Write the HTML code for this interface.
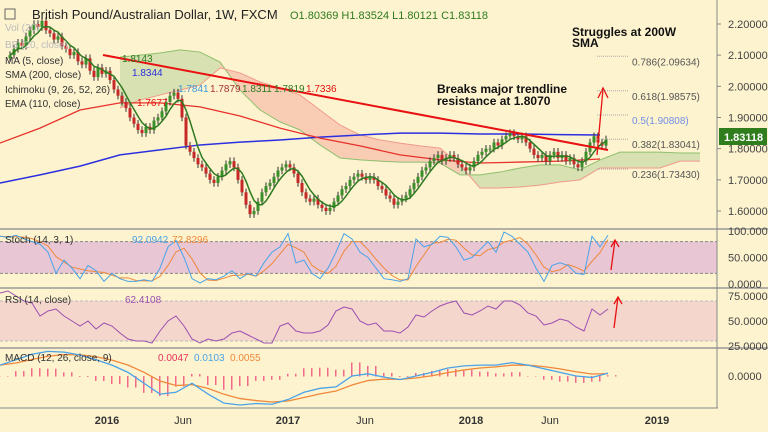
<!DOCTYPE html>
<html><head><meta charset="utf-8"><style>
body{margin:0;background:#fff;}
#c{width:768px;height:432px;background:#fdf3cf;position:relative;overflow:hidden;font-family:"Liberation Sans",sans-serif;}
svg text{font-family:"Liberation Sans",sans-serif;}
</style></head><body>
<div id="c">
<svg id="s" width="768" height="432"></svg>
</div>
<script>
const closes=[2.10,2.12,2.14,2.13,2.16,2.18,2.20,2.19,2.21,2.18,
2.17,2.15,2.16,2.13,2.12,2.10,2.11,2.08,2.07,2.09,
2.05,2.03,2.06,2.04,2.05,2.02,1.99,1.97,1.95,1.93,
1.90,1.88,1.86,1.85,1.87,1.86,1.89,1.90,1.92,1.95,
1.97,1.98,1.96,1.90,1.81,1.79,1.77,1.75,1.74,1.72,
1.70,1.69,1.71,1.73,1.75,1.76,1.74,1.70,1.66,1.62,
1.59,1.60,1.63,1.66,1.68,1.69,1.71,1.73,1.74,1.75,
1.74,1.72,1.69,1.66,1.64,1.63,1.64,1.62,1.61,1.60,
1.61,1.63,1.65,1.67,1.68,1.70,1.71,1.72,1.71,1.70,
1.71,1.70,1.68,1.67,1.65,1.64,1.62,1.63,1.64,1.65,
1.67,1.69,1.71,1.73,1.74,1.76,1.77,1.78,1.76,1.77,
1.78,1.77,1.75,1.74,1.73,1.74,1.76,1.78,1.79,1.80,
1.80,1.82,1.81,1.83,1.84,1.85,1.84,1.83,1.84,1.82,
1.80,1.78,1.77,1.78,1.76,1.78,1.79,1.77,1.78,1.76,
1.77,1.75,1.74,1.76,1.79,1.82,1.84,1.82,1.81,1.83];
// overlays sampled every 40 px from x=0
const sma200=[1.690,1.716,1.744,1.780,1.796,1.812,1.821,1.828,1.837,1.844,1.850,1.850,1.847,1.847,1.845,1.844];
const ema110=[1.818,1.866,1.924,1.947,1.947,1.934,1.905,1.866,1.834,1.809,1.780,1.764,1.754,1.757,1.760,1.767];
// ichimoku spans sampled every 20 px from x=120
const spanA=[2.094,2.100,2.107,2.117,2.110,2.078,1.988,1.924,1.886,1.860,1.812,1.770,1.764,1.760,1.757,1.757,1.754,1.716,1.716,1.725,1.738,1.748,1.748,1.732,1.764,1.789,1.789,1.789,1.786,1.786];
const spanB=[1.931,1.956,1.972,1.988,2.004,2.059,2.043,2.014,1.995,1.972,1.924,1.876,1.844,1.828,1.818,1.809,1.802,1.748,1.674,1.674,1.677,1.683,1.693,1.700,1.738,1.738,1.738,1.738,1.760,1.760];
const stochK=[90,88,92,85,80,75,60,20,45,30,10,35,25,5,20,10,5,5,8,5,30,70,82,50,10,2,10,8,15,25,10,20,15,40,60,70,95,40,45,20,10,30,60,95,85,60,50,30,10,8,5,10,85,70,75,90,88,70,45,50,65,80,60,98,90,75,60,30,5,35,40,35,20,18,90,70,92];
const rsi=[78,80,75,70,68,55,60,62,55,50,45,50,42,48,45,38,32,30,30,28,40,50,55,45,32,28,32,30,32,38,40,36,32,28,28,45,48,40,38,38,40,46,60,64,62,50,46,48,40,40,38,44,56,54,60,65,68,70,58,56,60,65,62,70,70,66,58,55,46,48,52,50,44,40,62,56,62];
const macd=[0.03,0.045,0.06,0.068,0.066,0.058,0.045,0.03,0.01,-0.02,-0.05,-0.045,-0.02,-0.05,-0.075,-0.08,-0.076,-0.078,-0.065,-0.045,-0.034,-0.03,0.0,0.006,-0.003,-0.01,0.0,0.01,0.022,0.028,0.03,0.03,0.037,0.03,0.02,0.01,0.0,-0.004,0.008];
const priceTicks=[2.2,2.1,2.0,1.9,1.8,1.7,1.6];
const timeLabels=["2016","Jun","2017","Jun","2018","Jun","2019"];
const timeX=[107,183,288,365,471,550,657];
const fibLevels=[0.786,0.618,0.5,0.382,0.236];
const fibPrices=[2.09634,1.98575,1.90808,1.83041,1.73430];

const S=document.getElementById('s');const NS='http://www.w3.org/2000/svg';
function el(t,a,p){const e=document.createElementNS(NS,t);for(const k in a)e.setAttribute(k,a[k]);(p||S).appendChild(e);return e;}
function txt(x,y,s,a){const e=el('text',Object.assign({x:x,y:y},a));e.textContent=s;return e;}
const py=p=>24+(2.2-p)*311.7;
const cx=i=>10+4*i;
const kx=i=>120+20*i;
const sy=v=>284-v*0.53;
const ry=v=>346-(v-25)*1.0;
const my=v=>376-v*362;
const line=(pts,a)=>el('polyline',Object.assign({points:pts.map(p=>p.join(',')).join(' '),fill:'none'},a));

// ichimoku cloud
for(let i=0;i<spanA.length-1;i++){
 const x0=kx(i),x1=kx(i+1);const g=(spanA[i]+spanA[i+1])>=(spanB[i]+spanB[i+1]);
 const c=el('polygon',{points:`${x0},${py(spanA[i])} ${x1},${py(spanA[i+1])} ${x1},${py(spanB[i+1])} ${x0},${py(spanB[i])}`,fill:g?'#d3dfae':'#f7c9b0',opacity:0.9});
 }
line(spanA.map((v,i)=>[kx(i),py(v)]),{stroke:'#8fbf6f','stroke-width':1,});
line(spanB.map((v,i)=>[kx(i),py(v)]),{stroke:'#f09a8a','stroke-width':1,});
line(sma200.map((v,i)=>[i*40,py(v)]),{stroke:'#2b2fe0','stroke-width':1.5,});
line(ema110.map((v,i)=>[i*40,py(v)]),{stroke:'#e8312a','stroke-width':1.3,});
// candles
closes.forEach((c,i)=>{const o=i?closes[i-1]:c-0.01;const up=c>=o;const hi=Math.max(o,c)+0.012,lo=Math.min(o,c)-0.012;
 const g=el('g',{});
 el('line',{x1:cx(i),x2:cx(i),y1:py(hi),y2:py(lo),stroke:'#333','stroke-width':1},g);
 el('rect',{x:cx(i)-1.5,y:py(Math.max(o,c)),width:3,height:Math.max(1,Math.abs(py(o)-py(c))),fill:up?'#3a8f2a':'#c62828'},g);});
const ma5=closes.map((c,i)=>{const s=closes.slice(Math.max(0,i-4),i+1);return [cx(i),py(s.reduce((a,b)=>a+b)/s.length)];});
line(ma5,{stroke:'#2d7a1f','stroke-width':1.5,});
// trendline
el('line',{x1:103,y1:55,x2:608,y2:150,stroke:'#e81010','stroke-width':2,});
el('line',{x1:597,y1:155,x2:603,y2:89,stroke:'#e81010','stroke-width':1.3,});
el('polyline',{points:'598,98 603,88 608,98',fill:'none',stroke:'#e81010','stroke-width':1.3,});
// fib
fibLevels.forEach((f,i)=>{const y=py(fibPrices[i]);
 el('line',{x1:597,x2:628,y1:y,y2:y,stroke:'#aaa','stroke-dasharray':'1,1',});
 txt(632,y+9,f+'('+fibPrices[i].toFixed(5)+')',{'font-size':10,fill:i==2?'#6f8fe6':'#555',});});
txt(572,36,'Struggles at 200W',{'font-size':12,'font-weight':'bold',fill:'#111',});
txt(572,47,'SMA',{'font-size':12,'font-weight':'bold',fill:'#111',});
txt(437,93,'Breaks major trendline',{'font-size':12,'font-weight':'bold',fill:'#111',});
txt(437,105,'resistance at 1.8070',{'font-size':12,'font-weight':'bold',fill:'#111',});
// header
txt(32,19,'British Pound/Australian Dollar, 1W, FXCM',{'font-size':13,fill:'#222',});
txt(290,19,'O1.80369  H1.83524  L1.80121  C1.83118',{'font-size':11,fill:'#2d7a1f',});
el('rect',{x:5,y:9,width:10,height:10,fill:'none',stroke:'#666',});
[['Vol (20)',29,'#bbb'],['BB (20, close)',46,'#bbb'],['MA (5, close)',62,'#333'],['SMA (200, close)',76,'#333'],['Ichimoku (9, 26, 52, 26)',91,'#333'],['EMA (110, close)',105,'#333']].forEach(l=>txt(5,l[1]+2,l[0],{'font-size':10,fill:l[2],}));
txt(122,62,'1.8143',{'font-size':10,fill:'#2d7a1f'});txt(132,76,'1.8344',{'font-size':10,fill:'#2b2fe0'});
txt(178,92,'1.7841',{'font-size':10,fill:'#3a9ad9'});txt(210,92,'1.7879',{'font-size':10,fill:'#a33'});txt(242,92,'1.8311',{'font-size':10,fill:'#2d7a1f'});txt(274,92,'1.7819',{'font-size':10,fill:'#2d7a1f'});txt(306,92,'1.7336',{'font-size':10,fill:'#e81010'});
txt(137,106,'1.7677',{'font-size':10,fill:'#e81010'});
// stoch
el('rect',{x:0,y:sy(80),width:717,height:sy(20)-sy(80),fill:'#e8c6d4',});
[80,20].forEach(v=>el('line',{x1:0,x2:717,y1:sy(v),y2:sy(v),stroke:'#888','stroke-dasharray':'3,2'}));
const stD=stochK.map((v,i)=>{const s=stochK.slice(Math.max(0,i-2),i+1);return s.reduce((a,b)=>a+b)/s.length;});
line(stD.map((v,i)=>[i*8,sy(v)]),{stroke:'#f0883a','stroke-width':1,});
line(stochK.map((v,i)=>[i*8,sy(v)]),{stroke:'#4aa3e8','stroke-width':1,});
txt(5,243,'Stoch (14, 3, 1)',{'font-size':10,fill:'#333',});
txt(132,243,'92.0942',{'font-size':10,fill:'#4aa3e8'});txt(172,243,'72.8296',{'font-size':10,fill:'#f0883a'});
// rsi
el('rect',{x:0,y:ry(70),width:717,height:ry(30)-ry(70),fill:'#f5d6cc',});
[70,30].forEach(v=>el('line',{x1:0,x2:717,y1:ry(v),y2:ry(v),stroke:'#bbb','stroke-dasharray':'3,2'}));
line(rsi.map((v,i)=>[i*8,ry(v)]),{stroke:'#9b4fb0','stroke-width':1,});
txt(5,303,'RSI (14, close)',{'font-size':10,fill:'#333',});
txt(125,303,'62.4108',{'font-size':10,fill:'#9b4fb0'});
// macd
const sig=[];macd.forEach((v,i)=>sig.push(i?sig[i-1]*0.6+v*0.4:v));
macd.forEach((v,i)=>{const h=(v-sig[i])*1.5;[0,8].forEach(dx=>{const b=el('rect',{x:i*16+dx-1,y:Math.min(my(0),my(h)),width:1.5,height:Math.abs(my(h)-my(0))+0.5,fill:'#f06a8a'});});});
line(sig.map((v,i)=>[i*16,my(v)]),{stroke:'#f0883a','stroke-width':1.3,});
line(macd.map((v,i)=>[i*16,my(v)]),{stroke:'#4aa3e8','stroke-width':1.3,});
txt(5,361,'MACD (12, 26, close, 9)',{'font-size':10,fill:'#333',});
txt(158,361,'0.0047',{'font-size':10,fill:'#e8315a'});txt(194,361,'0.0103',{'font-size':10,fill:'#4aa3e8'});txt(230,361,'0.0055',{'font-size':10,fill:'#f0883a'});
// red arrows in oscillators
el('line',{x1:611,y1:270,x2:615,y2:240,stroke:'#e81010','stroke-width':1.3});el('polyline',{points:'611,247 615,240 619,247',fill:'none',stroke:'#e81010','stroke-width':1.3});
el('line',{x1:614,y1:328,x2:618,y2:297,stroke:'#e81010','stroke-width':1.3});el('polyline',{points:'614,304 618,297 622,304',fill:'none',stroke:'#e81010','stroke-width':1.3});
// separators & axes
[229,288,348].forEach(y=>el('line',{x1:0,x2:768,y1:y,y2:y,stroke:'#999','stroke-width':1.5}));
el('line',{x1:0,x2:718,y1:408,y2:408,stroke:'#888'});
el('line',{x1:717,x2:717,y1:0,y2:408,stroke:'#888',});
priceTicks.forEach(p=>{el('line',{x1:717,x2:721,y1:py(p),y2:py(p),stroke:'#888'});txt(728,py(p)+4,p.toFixed(5),{'font-size':11,fill:'#444',});});
[[100,sy(100)],[50,sy(50)],[0,sy(0)]].forEach(a=>txt(728,a[1]+4,a[0].toFixed(4),{'font-size':11,fill:'#444',}));
[75,50,25].forEach(v=>txt(728,ry(v)+4,v.toFixed(4),{'font-size':11,fill:'#444',}));
txt(728,my(0)+4,'0.0000',{'font-size':11,fill:'#444',});
el('rect',{x:719,y:128,width:48,height:17,fill:'#2f7d1c',});
txt(724,141,'1.83118',{'font-size':11,'font-weight':'bold',fill:'#fff'});
timeLabels.forEach((t,i)=>txt(timeX[i],424,t,{'font-size':11,'font-weight':t=='Jun'?'normal':'bold',fill:'#333','text-anchor':'middle',}));
</script>
</body></html>
